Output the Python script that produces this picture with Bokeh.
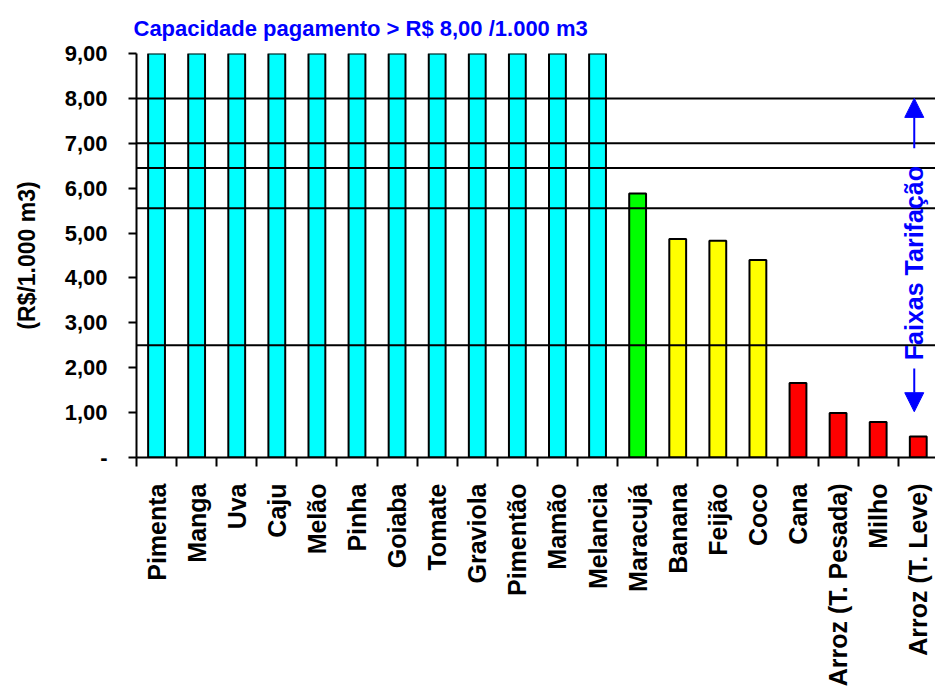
import math
from bokeh.plotting import figure
from bokeh.models import Range1d, FixedTicker, Span, Label, Arrow, NormalHead, ColumnDataSource
from bokeh.embed import file_html
from bokeh.resources import INLINE

# ---- data ----
categories = ["Pimenta", "Manga", "Uva", "Caju", "Melão", "Pinha", "Goiaba", "Tomate",
              "Graviola", "Pimentão", "Mamão", "Melancia", "Maracujá", "Banana", "Feijão",
              "Coco", "Cana", "Arroz (T. Pesada)", "Milho", "Arroz (T. Leve)"]
values = [9.0, 9.0, 9.0, 9.0, 9.0, 9.0, 9.0, 9.0, 9.0, 9.0, 9.0, 9.0,
          5.88, 4.87, 4.83, 4.40, 1.66, 0.99, 0.79, 0.47]
bar_colors = ["#00FFFF"] * 12 + ["#00FF00", "#FFFF00", "#FFFF00", "#FFFF00",
                                  "#FF0000", "#FF0000", "#FF0000", "#FF0000"]
tariff_lines = [2.5, 5.55, 6.45, 7.0, 8.0]
y_ticks = [0, 1, 2, 3, 4, 5, 6, 7, 8, 9]
y_tick_labels = ["-", "1,00", "2,00", "3,00", "4,00", "5,00", "6,00", "7,00", "8,00", "9,00"]
title_text = "Capacidade pagamento > R$ 8,00 /1.000 m3"
y_label = "(R$/1.000 m3)"
band_label = "Faixas Tarifação"

FONT = "Liberation Sans"
BLUE = "#0000FF"

centers = list(range(len(categories)))
bounds = [c - 0.5 for c in centers] + [len(categories) - 0.5]

src = ColumnDataSource(dict(x=centers, top=values, color=bar_colors))

p = figure(width=935, height=689, x_range=Range1d(-0.5, 19.43), y_range=Range1d(0, 9),
           output_backend="svg", toolbar_location=None,
           min_border_left=136, min_border_right=0, min_border_top=52, min_border_bottom=231)
p.outline_line_color = None
p.xgrid.visible = False
p.ygrid.visible = False
p.background_fill_color = "white"
p.border_fill_color = "white"

p.vbar(x="x", top="top", bottom=0, width=0.42, fill_color="color", line_color="black",
       line_width=2, source=src)

for v in tariff_lines:
    p.add_layout(Span(location=v, dimension="width", line_color="black", line_width=2))

# title
p.title.text = title_text
p.title.text_font = FONT
p.title.text_font_size = "22px"
p.title.text_font_style = "bold"
p.title.text_color = BLUE
p.title.align = "left"
p.title.offset = -3
p.title.standoff = 26

# x axis
xa = p.xaxis[0]
xa.ticker = FixedTicker(ticks=centers, minor_ticks=bounds)
xa.major_label_overrides = {c: n for c, n in zip(centers, categories)}
xa.major_label_orientation = math.pi / 2
xa.major_label_text_font = FONT
xa.major_label_text_font_size = "25px"
xa.major_label_text_font_style = "bold"
xa.major_label_text_color = "black"
xa.major_label_standoff = 17
xa.major_tick_out = 0
xa.major_tick_in = 0
xa.minor_tick_out = 9
xa.minor_tick_in = 0
xa.minor_tick_line_color = "black"
xa.minor_tick_line_width = 2
xa.axis_line_color = "black"
xa.axis_line_width = 2

# y axis
ya = p.yaxis[0]
ya.ticker = FixedTicker(ticks=y_ticks, minor_ticks=[])
ya.major_label_overrides = {t: s for t, s in zip(y_ticks, y_tick_labels)}
ya.major_label_text_font = FONT
ya.major_label_text_font_size = "22px"
ya.major_label_text_font_style = "bold"
ya.major_label_text_color = "black"
ya.major_label_standoff = 21
ya.major_tick_out = 8
ya.major_tick_in = 0
ya.major_tick_line_color = "black"
ya.major_tick_line_width = 2
ya.axis_line_color = "black"
ya.axis_line_width = 2
ya.axis_label = y_label
ya.axis_label_text_font = FONT
ya.axis_label_text_font_size = "23px"
ya.axis_label_text_font_style = "bold"
ya.axis_label_text_color = "black"
ya.axis_label_standoff = 22

# right-side annotation
ann_x = 18.9
p.add_layout(Label(x=ann_x, y=4.33, text=band_label, angle=math.pi / 2,
                   text_align="center", text_baseline="middle", text_font=FONT,
                   text_font_size="25px", text_font_style="bold", text_color=BLUE))
p.add_layout(Arrow(end=NormalHead(size=19, fill_color=BLUE, line_color=BLUE),
                   x_start=ann_x, y_start=6.89, x_end=ann_x, y_end=8.0,
                   line_color=BLUE, line_width=2))
p.add_layout(Arrow(end=NormalHead(size=19, fill_color=BLUE, line_color=BLUE),
                   x_start=ann_x, y_start=1.98, x_end=ann_x, y_end=1.02,
                   line_color=BLUE, line_width=2))

open("out.html", "w").write(file_html(p, INLINE))
